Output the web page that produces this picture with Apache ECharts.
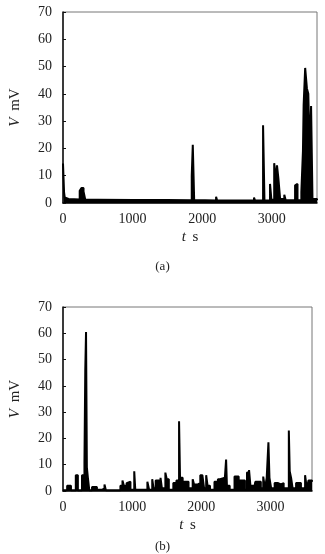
<!DOCTYPE html>
<html><head><meta charset="utf-8">
<script src="https://cdn.jsdelivr.net/npm/echarts@6/dist/echarts.min.js"></script>
<style>html,body{margin:0;padding:0;background:#fff}#c{width:325px;height:554px}</style>
</head><body><div id="c"></div>
<script>
// Chart (a): time (s) and voltage (mV), step samples
const tA = [0,8,15,25,40,80,240,265,295,320,500,1020,1040,1480,1495,1850,1865,1885,2040,2060,2200,2215,2745,2760,2875,2895,2975,2995,3035,3060,3075,3095,3120,3180,3200,3335,3350,3370,3425,3448,3458,3480,3505,3525,3545,3565,3585,3650];
const vA = [14.5,9,4,2,1.5,1.3,4.5,5.5,4.2,1.2,1.1,1.3,1.1,1.8,1.0,10,21.3,1.0,1.3,0.9,2.3,0.9,2.0,0.9,28.5,0.9,7,1.2,14.6,8,13.8,9,1.5,3,1,6.5,7,1,4,19,36,49.5,42,40,18,35.5,1.5,1];
// Chart (b)
const tB = [0,60,115,185,215,275,310,322,333,345,360,380,420,490,570,600,620,830,860,880,920,945,975,1030,1045,1220,1245,1290,1310,1340,1410,1430,1480,1500,1530,1595,1640,1678,1692,1730,1815,1875,1895,1950,1985,2015,2040,2070,2090,2125,2190,2240,2270,2330,2358,2370,2410,2480,2540,2630,2660,2690,2710,2760,2780,2860,2895,2920,2945,2970,2985,3010,3060,3110,3150,3190,3265,3278,3298,3320,3370,3440,3500,3525,3550,3600];
const vB = [0.3,2,0.3,6,0.3,6,11,46,60.5,9,5,0.3,1.5,0.5,1,2.5,0.3,2,4,2,3,3.5,0.5,7.5,0.5,3.5,0.5,4.5,1,4,5,1,7,4.5,0.5,3,4,26.5,5,3.5,1,4.5,2.5,3,6,5.5,1,6,2,0.5,3.5,4.5,5,1,12,2,0.5,5.5,4,0.5,7,8,2,0.5,3.5,1,5.5,1,5,18.5,5,1,3,2.5,3,1,23,7.5,5,1,3,1,6,1,4,3.5];
const yTicks = [0,10,20,30,40,50,60,70];
const xTicks = [0,1000,2000,3000];

const chart = echarts.init(document.getElementById('c'), null, {renderer:'canvas'});
const FONT = '"Liberation Serif","Times New Roman",serif';
const zip = (t,v)=>t.map((x,i)=>[x,v[i]]);
function xAx(gi, max){
  return {type:'value', gridIndex:gi, min:0, max:max, interval:1000,
    axisLine:{lineStyle:{color:'#111',width:1.5}}, axisTick:{show:false}, splitLine:{show:false},
    axisLabel:{color:'#222', fontFamily:FONT, fontSize:14, margin:9,
      formatter:v=>xTicks.includes(v)?String(v):''},
    name:'{i|t}  {n|s}', nameLocation:'middle', nameGap:27,
    nameTextStyle:{rich:{i:{fontFamily:FONT,fontSize:15,fontStyle:'italic',color:'#222'},n:{fontFamily:FONT,fontSize:15,color:'#222'}}}};
}
function yAx(gi){
  return {type:'value', gridIndex:gi, min:0, max:70, interval:10,
    axisLine:{show:true,lineStyle:{color:'#111',width:1.5}}, axisTick:{show:true,inside:true,length:3,lineStyle:{color:'#111'}},
    splitLine:{show:false},
    axisLabel:{color:'#222', fontFamily:FONT, fontSize:14, margin:11,
      formatter:v=>yTicks.includes(v)?String(v):''},
    name:'{i|V}  {n|mV}', nameLocation:'middle', nameGap:40, nameRotate:90,
    nameTextStyle:{rich:{i:{fontFamily:FONT,fontSize:15,fontStyle:'italic',color:'#222'},n:{fontFamily:FONT,fontSize:15,color:'#222'}}}};
}
function ser(gi, t, v){
  return {type:'line', xAxisIndex:gi, yAxisIndex:gi, data:zip(t,v), step:'end', showSymbol:false, symbol:'none',
    lineStyle:{color:'#000',width:2}, areaStyle:{color:'#000',opacity:1}, animation:false};
}
chart.setOption({
  animation:false,
  grid:[
    {left:57, top:12, width:260, height:191, show:true, borderColor:'#777', borderWidth:1, containLabel:false},
    {left:55, top:307, width:257, height:184, show:true, borderColor:'#777', borderWidth:1, containLabel:false}
  ],
  xAxis:[xAx(0,3650), xAx(1,3600)],
  yAxis:[yAx(0), yAx(1)],
  series:[ser(0,tA,vA), ser(1,tB,vB)],
  graphic:[
    {type:'text', left:'center', top:260, style:{text:'(a)', fontFamily:FONT, fontSize:13, fill:'#222'}},
    {type:'text', left:'center', top:540, style:{text:'(b)', fontFamily:FONT, fontSize:13, fill:'#222'}}
  ]
});
</script></body></html>
